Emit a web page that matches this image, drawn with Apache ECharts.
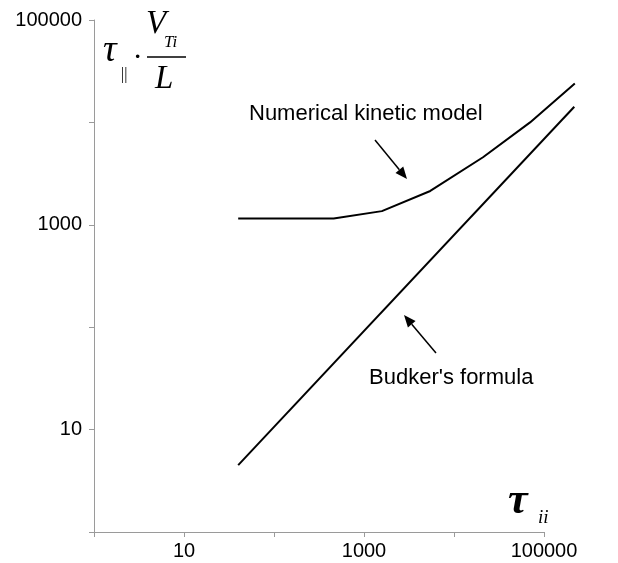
<!DOCTYPE html>
<html>
<head>
<meta charset="utf-8">
<script src="https://cdn.jsdelivr.net/npm/echarts@6/dist/echarts.min.js"></script>
<style>
  html, body { margin: 0; padding: 0; background: #fff; }
  #chart { width: 618px; height: 563px; }
</style>
</head>
<body>
<div id="chart"></div>
<script>
// numerical kinetic model
const kineticX = [40, 460, 1580, 5450, 21000, 70000, 220000];
const kineticY = [1150, 1150, 1360, 2140, 4570, 10000, 24000];
// Budker's formula - straight line on log-log
const budkerX = [40, 217000];
const budkerY = [4.5, 14200];
// decades that carry a label
const xLabels = [10, 1000, 100000];
const yLabels = [10, 1000, 100000];

const zip = (xs, ys) => xs.map((x, i) => [x, ys[i]]);

const axisGray = "#9a9a9a";
const labelFont = { color: "#000", fontSize: 20, fontFamily: "Liberation Sans" };
const mathFont = "Liberation Serif";

// grid geometry; the curves run a bit past the last x decade,
// so they sit on a hidden twin grid that reaches the right edge
const W = 618;
const gLeft = 94, gRight = 74, gTop = 20, gBottom = 31;
const decadePx = (W - gLeft - gRight) / 5;
const hiddenMax = Math.pow(10, (W - gLeft) / decadePx);

// little arrow: line + filled head
function arrow(x1, y1, x2, y2) {
  const a = Math.atan2(y2 - y1, x2 - x1);
  const len = 12, w = 5;
  const bx = x2 - len * Math.cos(a), by = y2 - len * Math.sin(a);
  return [
    { type: "line", shape: { x1: x1, y1: y1, x2: bx, y2: by }, style: { stroke: "#000", lineWidth: 1.5 } },
    {
      type: "polygon",
      shape: {
        points: [
          [x2, y2],
          [bx + w * Math.sin(a), by - w * Math.cos(a)],
          [bx - w * Math.sin(a), by + w * Math.cos(a)],
        ],
      },
      style: { fill: "#000" },
    },
  ];
}

const hiddenAxis = {
  type: "log",
  logBase: 10,
  show: false,
  splitLine: { show: false },
};

const chart = echarts.init(document.getElementById("chart"));
const option = {
  animation: false,
  grid: [
    { left: gLeft, right: gRight, top: gTop, bottom: gBottom },
    { left: gLeft, right: 0, top: gTop, bottom: gBottom },
  ],
  xAxis: [
    {
      type: "log",
      gridIndex: 0,
      logBase: 10,
      min: 1,
      max: 100000,
      interval: 1,
      axisLine: { lineStyle: { color: axisGray, width: 1 } },
      axisTick: { show: true, length: 5, lineStyle: { color: axisGray } },
      axisLabel: {
        ...labelFont,
        margin: 9,
        showMinLabel: true,
        showMaxLabel: true,
        formatter: (v) => (xLabels.includes(Math.round(v)) ? String(Math.round(v)) : ""),
      },
      splitLine: { show: false },
      minorTick: { show: false },
    },
    { ...hiddenAxis, gridIndex: 1, min: 1, max: hiddenMax },
  ],
  yAxis: [
    {
      type: "log",
      gridIndex: 0,
      logBase: 10,
      min: 1,
      max: 100000,
      interval: 1,
      axisLine: { show: true, lineStyle: { color: axisGray, width: 1 } },
      axisTick: { show: true, length: 5, lineStyle: { color: axisGray } },
      axisLabel: {
        ...labelFont,
        margin: 12,
        showMinLabel: true,
        showMaxLabel: true,
        formatter: (v) => (yLabels.includes(Math.round(v)) ? String(Math.round(v)) : ""),
      },
      splitLine: { show: false },
    },
    { ...hiddenAxis, gridIndex: 1, min: 1, max: 100000 },
  ],
  series: [
    {
      name: "Numerical kinetic model",
      type: "line",
      xAxisIndex: 1,
      yAxisIndex: 1,
      data: zip(kineticX, kineticY),
      showSymbol: false,
      clip: false,
      lineStyle: { color: "#000", width: 2 },
    },
    {
      name: "Budker's formula",
      type: "line",
      xAxisIndex: 1,
      yAxisIndex: 1,
      data: zip(budkerX, budkerY),
      showSymbol: false,
      clip: false,
      lineStyle: { color: "#000", width: 2 },
    },
  ],
  graphic: [
    // y axis title:  tau_|| . V_Ti / L
    { type: "text", left: 103, top: 32, style: { text: "τ", font: "italic 38px " + mathFont, fill: "#000" } },
    { type: "text", left: 121, top: 67, style: { text: "||", font: "16px " + mathFont, fill: "#000" } },
    { type: "text", left: 134, top: 46, style: { text: "·", font: "bold 22px " + mathFont, fill: "#000" } },
    { type: "text", left: 146, top: 8, style: { text: "V", font: "italic 33px " + mathFont, fill: "#000" } },
    { type: "text", left: 164, top: 34, style: { text: "Ti", font: "italic 17px " + mathFont, fill: "#000" } },
    { type: "line", shape: { x1: 147, y1: 57, x2: 186, y2: 57 }, style: { stroke: "#000", lineWidth: 1.5 } },
    { type: "text", left: 155, top: 63, style: { text: "L", font: "italic 33px " + mathFont, fill: "#000" } },
    // x axis title: tau_ii
    { type: "text", left: 508, top: 480, style: { text: "τ", font: "bold italic 44px " + mathFont, fill: "#000" } },
    { type: "text", left: 538, top: 508, style: { text: "ii", font: "italic 19px " + mathFont, fill: "#000" } },
    // annotations
    { type: "text", left: 249, top: 103, style: { text: "Numerical kinetic model", font: "22px Liberation Sans", fill: "#000" } },
    { type: "text", left: 369, top: 367, style: { text: "Budker's formula", font: "22px Liberation Sans", fill: "#000" } },
    ...arrow(375, 140, 407, 179),
    ...arrow(436, 353, 404, 315),
  ],
};
chart.setOption(option);
</script>
</body>
</html>
